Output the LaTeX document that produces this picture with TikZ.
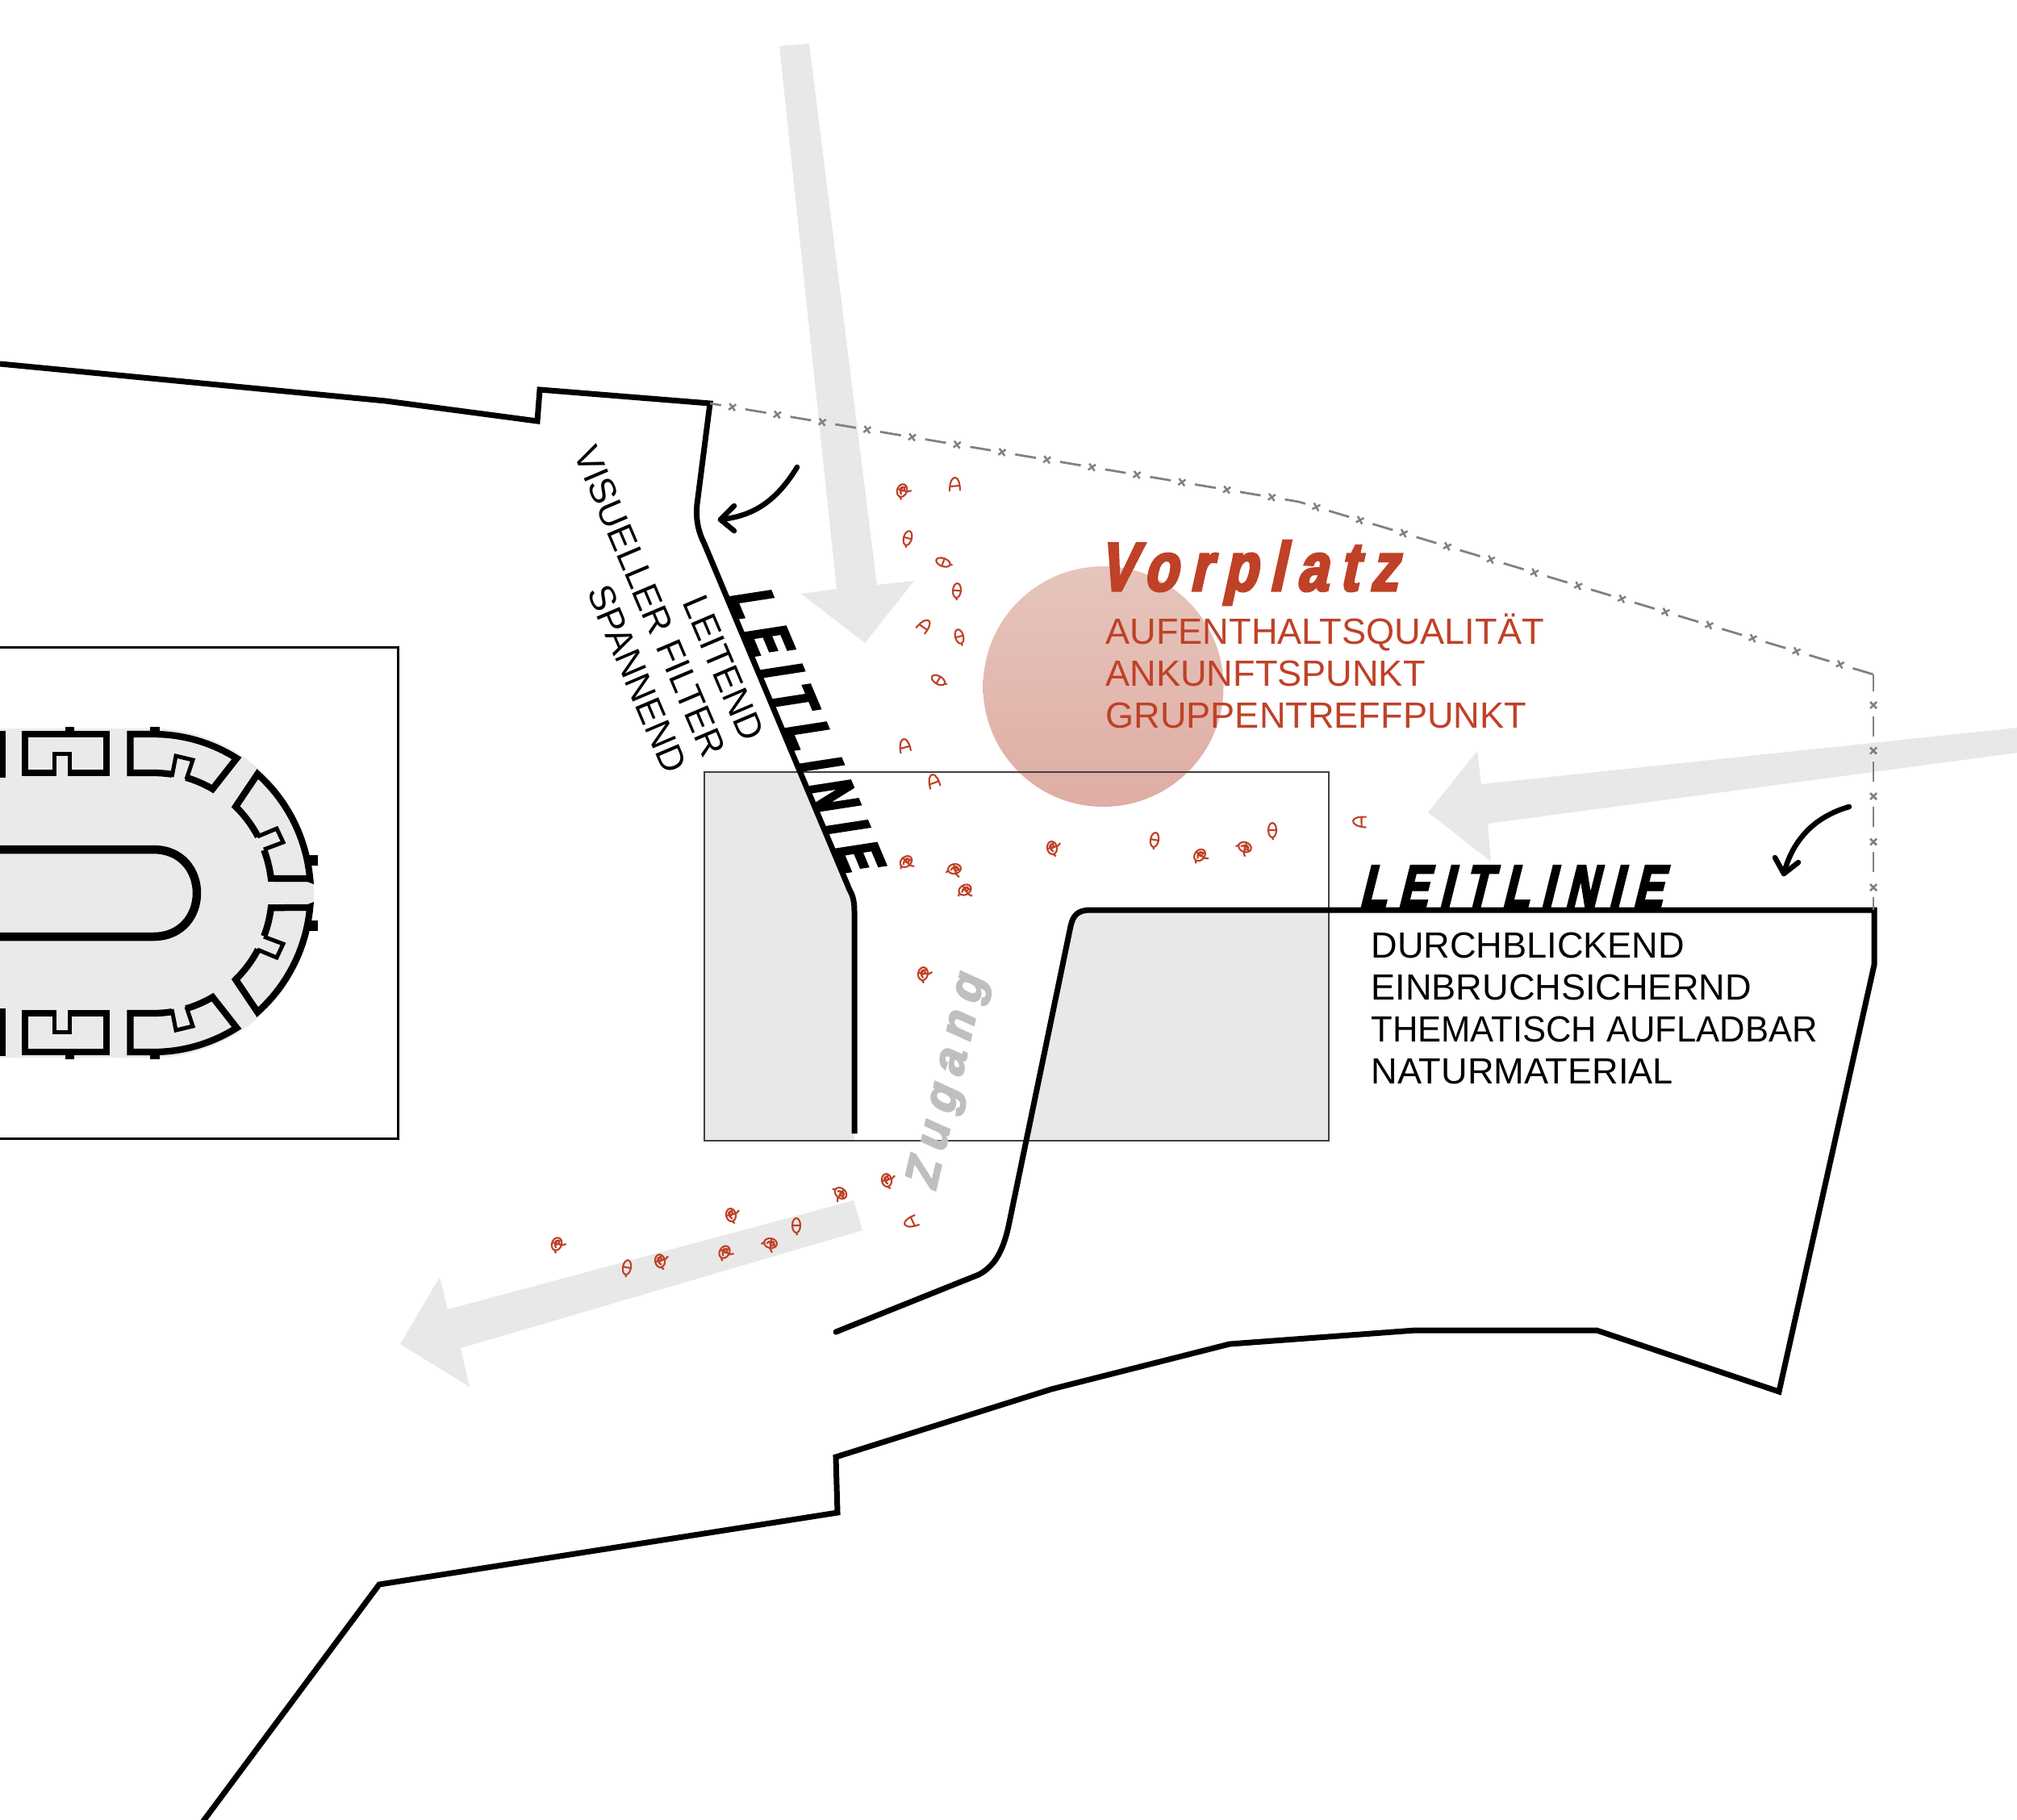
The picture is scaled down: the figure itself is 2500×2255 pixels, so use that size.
\documentclass[tikz,border=0pt]{standalone}
\usepackage{fontspec}
\usetikzlibrary{decorations.markings}
\setmainfont{Liberation Sans}
\newfontfamily\heavyf[FakeStretch=0.72,FakeSlant=0.25,FakeBold=4,LetterSpace=20]{Liberation Sans Bold}
\newfontfamily\vorf[FakeStretch=0.8,FakeSlant=0.22,FakeBold=4,LetterSpace=18]{Liberation Sans Bold}
\newfontfamily\zugf[FakeSlant=0.2,FakeBold=3.5,LetterSpace=21]{Liberation Sans Bold}
\definecolor{fillgrey}{HTML}{E8E8E8}
\definecolor{plaza}{HTML}{BF4127}
\definecolor{circtop}{HTML}{E6C5BC}
\definecolor{circbot}{HTML}{DFADA4}
\definecolor{fencegrey}{HTML}{808080}
\newcommand{\figA}[3]{\begin{scope}[shift={(#1,#2)},rotate=#3]
\draw[figline] (0,0) ellipse [x radius=8,y radius=6];
\draw[figline] (-5,1) .. controls (-1,-4) and (3,-3) .. (6,3) (0,-6) -- (1,7) -- (4,11) (-8,0) -- (-11,3) (2,0) circle [radius=2.5];
\end{scope}}
\newcommand{\figB}[3]{\begin{scope}[shift={(#1,#2)},rotate=#3]
\draw[figline] (0,0) ellipse [x radius=5,y radius=9];
\draw[figline] (-4,0) -- (4,0) (0,9) -- (1,12);
\end{scope}}
\newcommand{\figC}[3]{\begin{scope}[shift={(#1,#2)},rotate=#3]
\draw[figline] (-6,8) .. controls (-6,-6) and (-2,-9) .. (1,-9) .. controls (5,-9) and (7,0) .. (7,7) (-5,2) -- (6,1);
\end{scope}}
\newcommand{\halfplan}{%
\fill (0,905.5) rectangle (6.5,963.6);
\draw[wall] (67.5,958) -- (31,958) -- (31,910) -- (132,910) -- (132,958) -- (87,958);
\draw[notch] (67.5,962) -- (67.5,934.5) -- (86.5,934.5) -- (86.5,962);
\fill (81,901) rectangle (92,906);
\fill (186,901) rectangle (198,906);
\fill (383,1060) rectangle (394,1073);
\draw[wall] plot[domain=81:90,samples=6] ({190+147*cos(\x)},{1107-149*sin(\x)})
 -- (161.5,958) -- (161.5,910) -- (190,910)
 -- plot[domain=90:58,samples=24] ({190+195*cos(\x)},{1107-197*sin(\x)})
 -- plot[domain=60:74,samples=8] ({190+147*cos(\x)},{1107-149*sin(\x)});
\draw[notch] (213,963) -- (218,937) -- (239,942) -- (231,966);
\draw[wall] plot[domain=21:7,samples=8] ({190+147*cos(\x)},{1107-149*sin(\x)})
 -- (382,1089)
 -- plot[domain=5:48.5,samples=24] ({190+195*cos(\x)},{1107-197*sin(\x)})
 -- plot[domain=46:28,samples=10] ({190+147*cos(\x)},{1107-149*sin(\x)});
\draw[notch] (319,1037) -- (343,1027) -- (351,1044) -- (327,1053);
}
\tikzset{
 x=0.4pt,y=-0.4pt,
 mainline/.style={line width=2.8pt,line join=miter},
 wall/.style={line width=3.3pt,line join=miter},
 notch/.style={line width=2pt,line join=miter},
 figline/.style={draw=plaza,line width=0.85pt},
 arrowline/.style={line width=2.6pt,line cap=round,line join=round},
 fence/.style={draw=fencegrey,line width=1.1pt},
 xmark/.style={draw=fencegrey,line width=1pt},
 redtext/.style={text=plaza,anchor=base west,inner sep=0pt,font=\fontsize{18.05}{20}\selectfont},
 blacktext/.style={text=black,anchor=base west,inner sep=0pt,font=\fontsize{18.05}{20}\selectfont},
 rottext/.style={text=black,anchor=base east,inner sep=0pt,rotate=-67,font=\fontsize{18.05}{20}\selectfont},
 leit/.style={text=black,anchor=base west,inner sep=0pt,font=\heavyf\fontsize{30}{32}\selectfont},
}
\begin{document}
\begin{tikzpicture}
\useasboundingbox (0,0) rectangle (2500,2255);
\clip (0,0) rectangle (2500,2255);
\fill[white] (0,0) rectangle (2500,2255);
% grey traffic arrows
\fill[fillgrey] (966,57) -- (1003,54) -- (1087,725) -- (1133,720) -- (1072,797) -- (993,736) -- (1037,730) -- cycle;
\fill[fillgrey] (2500,902) -- (2500,933) -- (1844,1021) -- (1848,1068) -- (1770,1007) -- (1831,931) -- (1836,972) -- cycle;
\fill[fillgrey] (1058,1488) -- (1069,1525) -- (571,1671) -- (582,1719) -- (496,1666) -- (545,1583) -- (555,1623) -- cycle;
% grey fields
\fill[fillgrey] (873,957) -- (990,957) -- (1053,1103) .. controls (1057,1110) and (1059,1117) .. (1059,1130) -- (1059,1414) -- (873,1414) -- cycle;
\fill[fillgrey] (1647,1128) -- (1352,1128) .. controls (1335,1128) and (1330,1135) .. (1327,1148) -- (1272,1414) -- (1647,1414) -- cycle;
% plaza circle
\shade[top color=circtop,bottom color=circbot] (1367.5,851) circle [radius=149];
% frame
\draw[draw=black!75,line width=0.6pt] (873,957) rectangle (1647,1414);
% left building
\draw[black,line width=1.2pt] (-5,802) rectangle (493,1411);
\fill[fillgrey!90!white] (0,903) -- (190,903) -- plot[domain=90:-90,samples=60] ({190+199*cos(\x)},{1107-204*sin(\x)}) -- (0,1311) -- cycle;
\draw[line width=4.2pt] (-5,1053) -- (190,1053) .. controls (262,1053) and (262,1161) .. (190,1161) -- (-5,1161);
\halfplan
\begin{scope}[shift={(0,2214)},yscale=-1]
\halfplan
\end{scope}
% site outlines
\draw[mainline] (0,451) -- (478,497) -- (666,522) -- (669,483) -- (880,500) -- (864,625) .. controls (862,645) and (866,660) .. (873,674) -- (1053,1103) .. controls (1057,1110) and (1059,1117) .. (1059,1130) -- (1059,1405);
\draw[mainline,line cap=round] (1036,1651) -- (1213,1580) .. controls (1232,1570) and (1243,1552) .. (1250,1520) -- (1327,1148) .. controls (1330,1135) and (1335,1128) .. (1352,1128) -- (2323,1128) -- (2323,1196) -- (2205,1725) -- (1979,1649) -- (1754,1649) -- (1524,1666) -- (1303,1722) -- (1036,1806) -- (1038,1875) -- (470,1964) -- (250,2260);
% fence
\draw[fence,dash pattern=on 10.4pt off 12.2pt,dash phase=4.8pt,postaction={decorate},decoration={markings,mark=between positions 11.2pt and 583pt step 22.6pt with {\draw[xmark] (-1.6pt,-1.6pt) -- (1.6pt,1.6pt) (-1.6pt,1.6pt) -- (1.6pt,-1.6pt);}}] (880,500) -- (1610,622) -- (2322,836);
\draw[fence,dash pattern=on 10pt off 12.4pt,dash phase=1.6pt,postaction={decorate},decoration={markings,mark=between positions 15.2pt and 112pt step 22.6pt with {\draw[xmark] (-1.6pt,-1.6pt) -- (1.6pt,1.6pt) (-1.6pt,1.6pt) -- (1.6pt,-1.6pt);}}] (2322,836) -- (2322,1128);
% curved arrows
\draw[arrowline] (988,579) .. controls (960,625) and (930,640) .. (893,644);
\draw[arrowline] (910,627) -- (893,644) -- (910,658);
\draw[arrowline] (2292,1000) .. controls (2250,1012) and (2222,1040) .. (2211,1083);
\draw[arrowline] (2200,1063) -- (2211,1083) -- (2229,1069);
% figures
\figA{1118}{608}{70} \figC{1183}{601}{0} \figB{1125}{667}{-15} \figB{1169}{697}{70}
\figB{1186}{732}{-5} \figC{1145}{776}{-40} \figB{1189}{789}{15} \figB{1163}{843}{60}
\figC{1121}{925}{10} \figC{1157}{969}{15} \figA{1304}{1051}{100} \figB{1431}{1041}{-10}
\figA{1487}{1060}{50} \figA{1543}{1050}{-20} \figB{1577}{1029}{0} \figC{1686}{1019}{85}
\figA{1123}{1068}{40} \figA{1183}{1077}{10} \figA{1196}{1103}{30} \figA{1144}{1207}{80}
\figA{1099}{1463}{100} \figA{1042}{1479}{-40} \figC{1130}{1515}{110} \figA{906}{1506}{100}
\figB{987}{1519}{0} \figA{955}{1541}{-10} \figA{898}{1552}{60} \figA{818}{1563}{100}
\figB{777}{1571}{-10} \figA{690}{1542}{70}
% text
\node[redtext,font=\vorf\fontsize{34}{36}\selectfont] (vorplatz) at (1361,732) {Vorplatz};
\node[redtext] (red1) at (1370,798) {AUFENTHALTSQUALITÄT};
\node[redtext] (red2) at (1370,850) {ANKUNFTSPUNKT};
\node[redtext] (red3) at (1370,902) {GRUPPENTREFFPUNKT};
\node[leit] (leith) at (1684,1125) {LEITLINIE};
\node[leit,rotate=-67.2] (leitr) at (901,737) {LEITLINIE};
\node[blacktext] (b1) at (1699,1187) {DURCHBLICKEND};
\node[blacktext] (b2) at (1699,1239) {EINBRUCHSICHERND};
\node[blacktext,xscale=0.965] (b3) at (1699,1291) {THEMATISCH AUFLADBAR};
\node[blacktext] (b4) at (1699,1343) {NATURMATERIAL};
\node[rottext] (r1) at (920,922) {LEITEND};
\node[rottext] (r2) at (872,942) {VISUELLER FILTER};
\node[rottext] (r3) at (824,962) {SPANNEND};
\node[anchor=base west,inner sep=0pt,text=black!25,rotate=77,font=\zugf\fontsize{23.3}{25}\selectfont] (zug) at (1159,1478) {Zugang};
\end{tikzpicture}
\end{document}
